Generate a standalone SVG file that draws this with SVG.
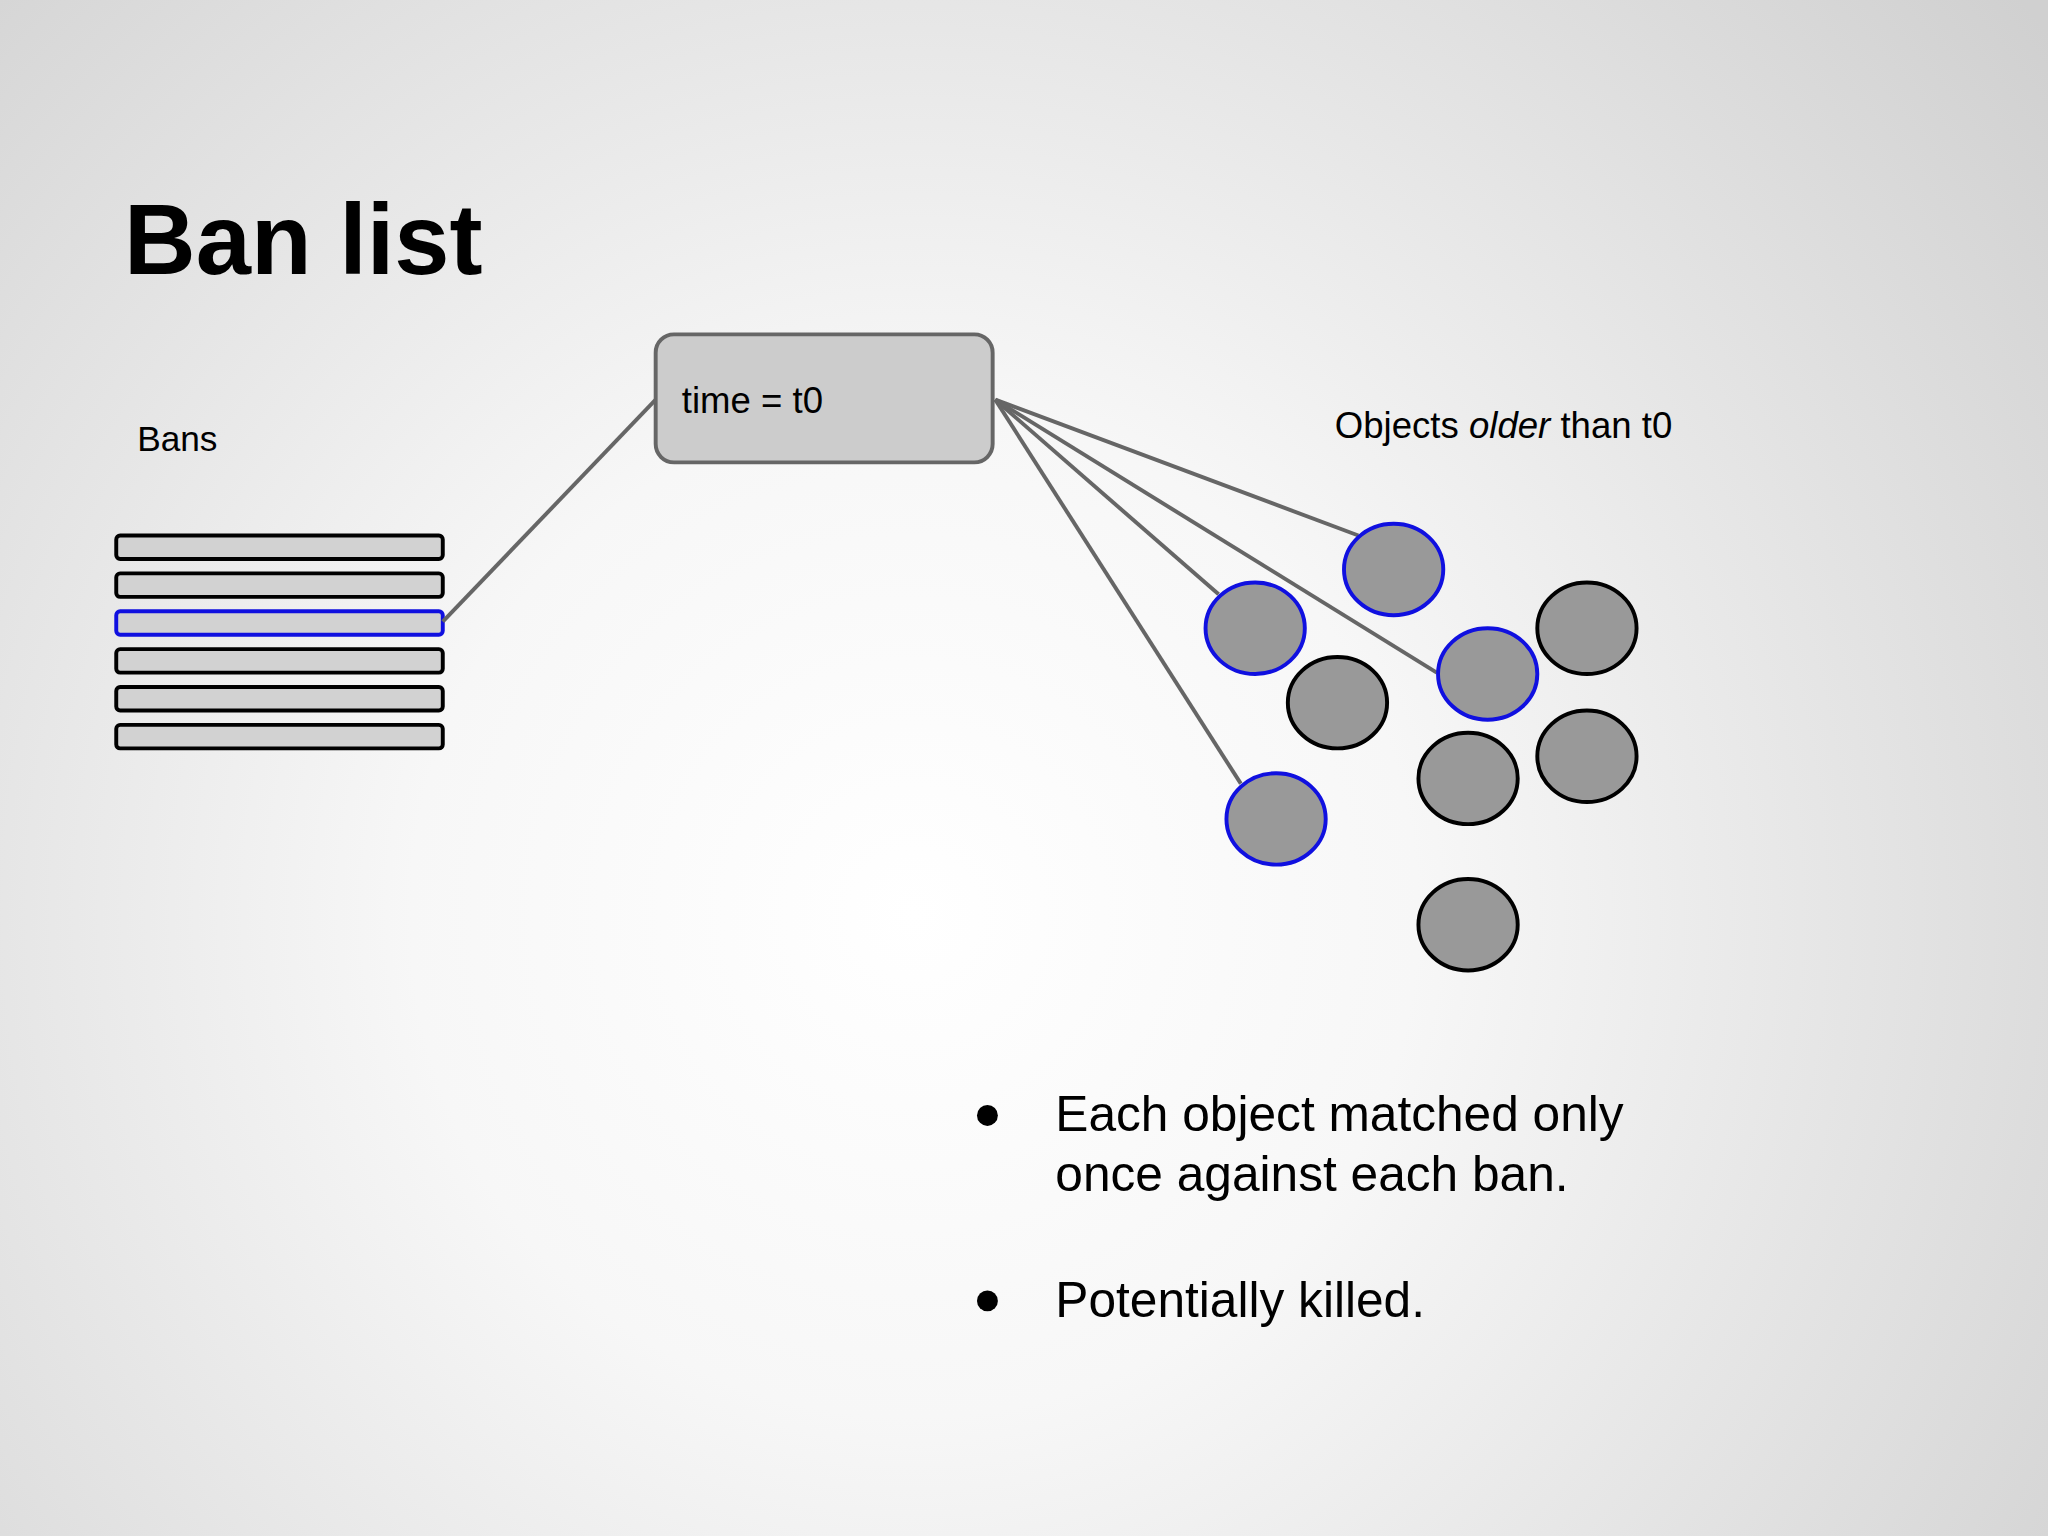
<svg xmlns="http://www.w3.org/2000/svg" width="2048" height="1536" viewBox="0 0 2048 1536">
<defs>
<radialGradient id="bg" cx="700" cy="700" r="1100" gradientUnits="userSpaceOnUse">
<stop offset="0" stop-color="#ffffff"/><stop offset="0.35" stop-color="#f7f7f7"/><stop offset="1" stop-color="#d0d0d0"/>
</radialGradient>
<style>
text{font-family:"Liberation Sans",Arial,sans-serif;fill:#000}
.bar{fill:#d2d2d2;stroke:#000;stroke-width:3}
.bar.sel{stroke:#1010e0}
.obj{fill:#999;stroke:#000;stroke-width:3}
.obj.sel{stroke:#1010e0}
.con line{stroke:#666;stroke-width:3}
</style>
</defs>
<g transform="scale(1.30612)">
<rect width="1568" height="1176" fill="url(#bg)"/>
<text x="95" y="210" font-size="76" font-weight="bold">Ban list</text>
<text x="105" y="345" font-size="27">Bans</text>
<g id="bans">
<rect class="bar" x="89" y="410" width="250" height="18" rx="3"/>
<rect class="bar" x="89" y="439" width="250" height="18" rx="3"/>
<rect class="bar sel" x="89" y="468" width="250" height="18" rx="3"/>
<rect class="bar" x="89" y="497" width="250" height="18" rx="3"/>
<rect class="bar" x="89" y="526" width="250" height="18" rx="3"/>
<rect class="bar" x="89" y="555" width="250" height="18" rx="3"/>
</g>
<g class="con" id="connectors">
<line x1="339" y1="476" x2="502" y2="306"/>
<line x1="762" y1="306" x2="1040" y2="410"/>
<line x1="762" y1="306" x2="933" y2="455"/>
<line x1="762" y1="306" x2="1100" y2="515"/>
<line x1="762" y1="306" x2="950" y2="600"/>
</g>
<g id="timebox">
<rect x="502" y="256" width="258" height="98" rx="14" fill="#cccccc" stroke="#666" stroke-width="3"/>
<text x="522" y="316" font-size="28">time = t0</text>
</g>
<text x="1022" y="335" font-size="28">Objects <tspan font-style="italic">older</tspan> than t0</text>
<g id="objects">
<ellipse class="obj sel" cx="1067" cy="436" rx="38" ry="35"/>
<ellipse class="obj sel" cx="961" cy="481" rx="38" ry="35"/>
<ellipse class="obj sel" cx="1139" cy="516" rx="38" ry="35"/>
<ellipse class="obj sel" cx="977" cy="627" rx="38" ry="35"/>
<ellipse class="obj" cx="1215" cy="481" rx="38" ry="35"/>
<ellipse class="obj" cx="1024" cy="538" rx="38" ry="35"/>
<ellipse class="obj" cx="1124" cy="596" rx="38" ry="35"/>
<ellipse class="obj" cx="1215" cy="579" rx="38" ry="35"/>
<ellipse class="obj" cx="1124" cy="708" rx="38" ry="35"/>
</g>
<g id="bullets" font-size="38">
<circle cx="756" cy="854" r="8"/>
<text x="808" y="866" font-size="38">Each object matched only</text>
<text x="808" y="912" font-size="38">once against each ban.</text>
<circle cx="756" cy="996" r="8"/>
<text x="808" y="1008" font-size="38">Potentially killed.</text>
</g>
</g>
</svg>
